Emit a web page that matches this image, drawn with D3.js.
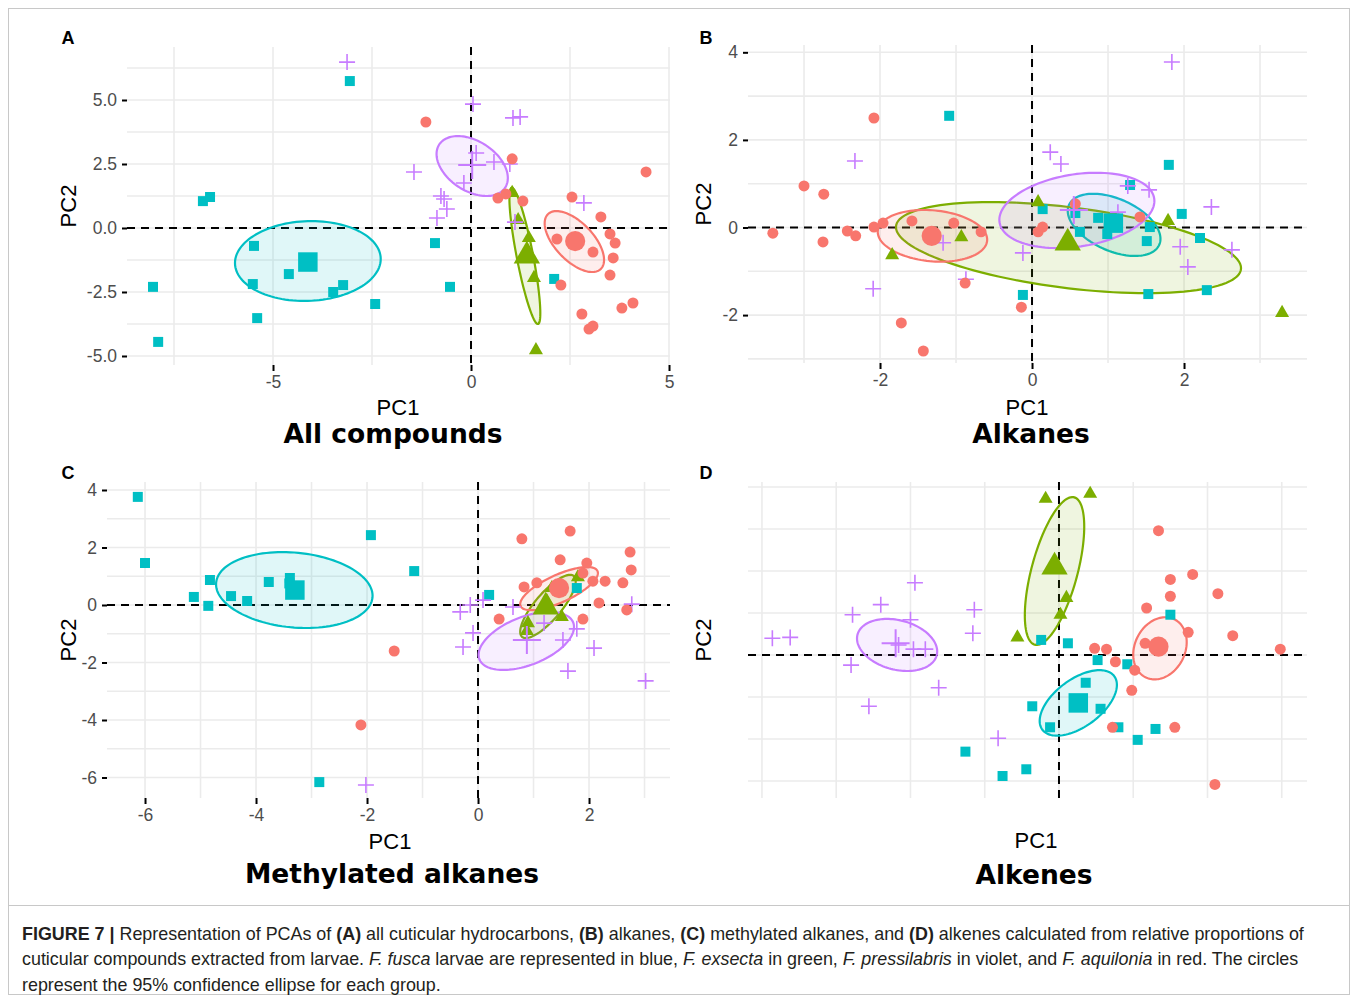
<!doctype html>
<html lang="en">
<head>
<meta charset="UTF-8">
<title>Figure 7</title>
<script src="https://d3js.org/d3.v7.min.js"></script>
<style>
  body { margin: 0; background: #fff; }
</style>
</head>
<body>
<div id="chart-area"></div>
<script>

// group order everywhere: fusca, exsecta, pressilabris, aquilonia
const groupNames = ['fusca', 'exsecta', 'pressilabris', 'aquilonia'];
const groupColors = ['#00BFC4', '#7CAE00', '#C77CFF', '#F8766D'];
const groupShapes = ['square', 'triangle', 'cross', 'circle'];

// ---- A: all compounds
const aFusca = [[-3.06,5.74],[-6.77,1.05],[-6.59,1.21],[-5.48,-0.70],[-4.60,-1.80],[-5.51,-2.19],[-3.48,-2.50],[-3.23,-2.23],[-8.03,-2.30],[-7.90,-4.45],[-5.40,-3.52],[-0.91,-0.59],[-0.53,-2.30],[-2.42,-2.97],[2.10,-1.99]];
const aExsecta = [[1.04,1.37],[1.19,0.31],[1.46,-0.39],[1.59,-1.95],[1.64,-4.77]];
const aPressilabris = [[-3.13,6.48],[0.05,4.84],[1.06,4.30],[1.24,4.34],[0.13,2.93],[0.58,2.58],[0.98,2.50],[-1.44,2.19],[-0.18,1.76],[-0.76,1.25],[-0.68,1.13],[-0.61,0.74],[-0.86,0.39],[2.85,0.98],[1.11,0.23]];
const aAquilonia = [[-1.14,4.14],[1.04,2.70],[0.68,1.17],[0.88,1.33],[1.31,1.05],[2.55,1.21],[3.28,0.43],[4.42,2.19],[2.17,-0.43],[3.08,-0.94],[3.51,-0.23],[3.64,-0.59],[3.59,-1.17],[3.51,-1.84],[2.27,-2.23],[2.80,-3.36],[2.98,-3.95],[3.08,-3.83],[3.81,-3.13],[4.09,-2.93]];
const aMeans = [[-4.12,-1.33],[1.41,-1.09],[0.03,2.46],[2.63,-0.51]];
// ellipse: [cx, cy, half x-extent, half y-extent, tilt (rho)]
const aEllipses = [[-4.12,-1.29,1.84,1.56,0.05],[1.36,-1.09,0.39,2.66,-0.84],[0.03,2.42,0.90,1.17,-0.40],[2.61,-0.53,0.75,1.19,-0.60]];
const aXTicks = [-5, 0, 5];
const aYTicks = [-5, -2.5, 0, 2.5, 5];
const aXGrid = [-7.5, -5, -2.5, 0, 2.5, 5];
const aYGrid = [-5, -3.75, -2.5, -1.25, 0, 1.25, 2.5, 3.75, 5, 6.25];

// ---- B: alkanes
const bFusca = [[-1.09,2.55],[0.14,0.42],[1.29,0.97],[1.80,1.43],[1.97,0.31],[0.87,0.22],[0.57,0.33],[0.63,-0.10],[0.99,-0.15],[1.13,0.01],[1.55,0.01],[1.51,-0.31],[2.21,-0.24],[1.53,-1.52],[2.30,-1.43],[-0.12,-1.54]];
const bExsecta = [[-1.84,-0.63],[-0.93,-0.22],[0.08,0.58],[1.79,0.15],[3.29,-1.95]];
const bPressilabris = [[-2.33,1.52],[-1.17,-0.35],[-2.09,-1.40],[-0.87,-1.18],[1.84,3.78],[0.24,1.72],[0.38,1.45],[1.26,0.95],[1.54,0.86],[2.36,0.47],[1.13,0.35],[-0.12,-0.58],[1.95,-0.44],[2.05,-0.90],[2.63,-0.51]];
const bAquilonia = [[-2.08,2.50],[-3.00,0.95],[-2.74,0.76],[-3.41,-0.13],[-2.75,-0.33],[-2.43,-0.08],[-2.32,-0.19],[-2.08,0.01],[-1.96,0.10],[-1.58,0.15],[-1.03,0.10],[-0.67,-0.10],[-0.88,-1.27],[-1.72,-2.18],[-1.43,-2.82],[0.57,0.54],[1.42,0.24],[0.14,0.01],[0.08,-0.10],[-0.14,-1.82]];
const bMeans = [[1.07,0.10],[0.47,-0.35],[0.55,0.40],[-1.32,-0.19]];
const bEllipses = [[1.08,0.06,0.61,0.71,-0.45],[0.48,-0.46,2.27,1.04,-0.45],[0.59,0.39,1.02,0.86,0.25],[-1.31,-0.19,0.72,0.59,-0.15]];
const bXTicks = [-2, 0, 2];
const bYTicks = [-2, 0, 2, 4];
const bXGrid = [-3, -2, -1, 0, 1, 2, 3];
const bYGrid = [-3, -2, -1, 0, 1, 2, 3, 4];

// ---- C: methylated alkanes
const cFusca = [[-6.13,3.76],[-6.00,1.46],[-4.83,0.87],[-5.12,0.28],[-4.86,-0.03],[-4.45,0.31],[-4.16,0.14],[-3.77,0.80],[-3.39,0.94],[-3.40,0.75],[-3.30,0.40],[-1.93,2.43],[-1.15,1.18],[0.20,0.35],[1.78,0.59],[-2.86,-6.16]];
const cExsecta = [[1.80,0.97],[1.33,0.59],[1.24,0.14],[0.90,-0.63],[1.51,-0.42],[0.88,-0.90]];
const cPressilabris = [[-0.32,-0.24],[-0.14,0.00],[0.09,0.17],[0.63,-0.07],[-0.09,-0.97],[-0.27,-1.46],[1.19,-0.63],[1.53,-1.22],[1.78,-0.83],[2.09,-1.50],[1.62,-2.30],[2.77,0.03],[3.02,-2.64],[-2.02,-6.26]];
const cAquilonia = [[0.79,2.30],[1.66,2.57],[1.48,1.57],[1.96,1.46],[1.89,1.11],[1.06,0.77],[0.83,0.63],[2.07,0.83],[2.29,0.83],[2.61,0.77],[2.74,1.84],[2.76,1.22],[2.18,0.07],[2.68,-0.17],[0.38,-0.49],[1.89,-0.49],[-1.51,-1.60],[-2.11,-4.17]];
const cMeans = [[-3.30,0.52],[1.22,-0.07],[0.88,-1.22],[1.46,0.59]];
const cEllipses = [[-3.31,0.52,1.41,1.32,-0.15],[1.26,-0.05,0.50,1.10,0.80],[0.87,-1.25,0.86,1.01,0.48],[1.46,0.57,0.70,0.75,0.72]];
const cXTicks = [-6, -4, -2, 0, 2];
const cYTicks = [-6, -4, -2, 0, 2, 4];
const cXGrid = [-6, -5, -4, -3, -2, -1, 0, 1, 2, 3];
const cYGrid = [-6, -5, -4, -3, -2, -1, 0, 1, 2, 3, 4];

// ---- D: alkenes (no tick labels in the original)
const dFusca = [[-0.12,0.18],[0.06,0.14],[0.26,-0.06],[0.46,-0.11],[0.75,0.48],[0.18,-0.33],[-0.18,-0.61],[0.28,-0.64],[0.40,-0.86],[-0.06,-0.86],[0.53,-1.01],[0.65,-0.88],[-0.63,-1.15],[-0.38,-1.44],[-0.22,-1.36]];
const dExsecta = [[-0.09,1.86],[0.21,1.92],[0.05,0.68],[0.01,0.48],[-0.28,0.21]];
const dPressilabris = [[-1.93,0.20],[-1.81,0.21],[-1.39,0.48],[-1.20,0.60],[-0.97,0.86],[-1.00,0.42],[-1.08,0.12],[-0.98,0.07],[-0.90,0.07],[-1.40,-0.12],[-0.81,-0.39],[-1.28,-0.61],[-0.57,0.54],[-0.58,0.26],[-0.41,-0.99]];
const dAquilonia = [[0.67,1.48],[0.75,0.90],[0.75,0.70],[0.90,0.96],[1.07,0.73],[0.59,0.56],[1.17,0.23],[1.49,0.07],[0.87,0.27],[0.58,0.14],[0.24,0.08],[0.32,0.07],[0.38,-0.08],[0.51,-0.18],[0.49,-0.42],[0.36,-0.86],[0.78,-0.86],[1.05,-1.54]];
const dMeans = [[0.13,-0.57],[-0.03,1.05],[-1.10,0.14],[0.67,0.10]];
const dEllipses = [[0.13,-0.57,0.26,0.39,0.55],[-0.03,1.00,0.20,0.88,0.60],[-1.09,0.12,0.27,0.31,-0.25],[0.68,0.08,0.18,0.37,0.20]];
const dXTicks = [];
const dYTicks = [];
const dXGrid = [-2, -1.5, -1, -0.5, 0, 0.5, 1, 1.5];
const dYGrid = [-1.5, -1, -0.5, 0, 0.5, 1, 1.5, 2];

// plain hyphen minus, as in the original figure
const fmt1 = d => d3.format('.1f')(d).replace('\u2212', '-');
const fmt0 = d => d3.format('d')(d).replace('\u2212', '-');

const panels = [
    { letter: 'A', title: 'All compounds', left: 127, right: 670, top: 47, bottom: 365,
      xDomain: [-8.687, 5.025], yDomain: [7.070, -5.352], fmt: fmt1, fmtX: fmt0,
      groups: [aFusca, aExsecta, aPressilabris, aAquilonia], means: aMeans, ellipses: aEllipses,
      xTicks: aXTicks, yTicks: aYTicks, xGrid: aXGrid, yGrid: aYGrid,
      letterXY: [68, 44], pc1XY: [398, 415], pc2X: 76, titleXY: [393, 443] },
    { letter: 'B', title: 'Alkanes', left: 748, right: 1307, top: 45, bottom: 363,
      xDomain: [-3.737, 3.618], yDomain: [4.167, -3.094], fmt: fmt0, fmtX: fmt0,
      groups: [bFusca, bExsecta, bPressilabris, bAquilonia], means: bMeans, ellipses: bEllipses,
      xTicks: bXTicks, yTicks: bYTicks, xGrid: bXGrid, yGrid: bYGrid,
      letterXY: [706, 44], pc1XY: [1027, 415], pc2X: 711, titleXY: [1031, 443] },
    { letter: 'C', title: 'Methylated alkanes', left: 107, right: 670, top: 482, bottom: 798,
      xDomain: [-6.685, 3.459], yDomain: [4.278, -6.713], fmt: fmt0, fmtX: fmt0,
      groups: [cFusca, cExsecta, cPressilabris, cAquilonia], means: cMeans, ellipses: cEllipses,
      xTicks: cXTicks, yTicks: cYTicks, xGrid: cXGrid, yGrid: cYGrid,
      letterXY: [68, 479], pc1XY: [390, 849], pc2X: 76, titleXY: [392, 883] },
    { letter: 'D', title: 'Alkenes', left: 748, right: 1307, top: 482, bottom: 798,
      xDomain: [-2.094, 1.670], yDomain: [2.060, -1.702], fmt: fmt0, fmtX: fmt0,
      groups: [dFusca, dExsecta, dPressilabris, dAquilonia], means: dMeans, ellipses: dEllipses,
      xTicks: dXTicks, yTicks: dYTicks, xGrid: dXGrid, yGrid: dYGrid,
      letterXY: [706, 479], pc1XY: [1036, 848], pc2X: 711, titleXY: [1034, 884] }
];

const W = 1358, H = 1003;
const svg = d3.select('#chart-area')
    .append('svg')
    .attr('width', W)
    .attr('height', H)
    .style('display', 'block');

svg.append('rect').attr('width', W).attr('height', H).attr('fill', '#fff');

// figure frame + caption separator
svg.append('rect')
    .attr('x', 8.5).attr('y', 8.5).attr('width', W - 17).attr('height', H - 17)
    .attr('fill', 'none').attr('stroke', '#c8c8c8').attr('stroke-width', 1);
svg.append('line')
    .attr('x1', 8).attr('x2', W - 8).attr('y1', 905.5).attr('y2', 905.5)
    .attr('stroke', '#c8c8c8').attr('stroke-width', 1);

function symbolPath(shape, big) {
    if (shape === 'cross') {
        const s = big ? 14 : 8;
        return `M${-s},0H${s}M0,${-s}V${s}`;
    }
    const types = { square: d3.symbolSquare, circle: d3.symbolCircle, triangle: d3.symbolTriangle };
    const sizes = big ? { square: 380, circle: 320, triangle: 300 } : { square: 100, circle: 95, triangle: 85 };
    return d3.symbol().type(types[shape]).size(sizes[shape])();
}

function ellipsePoints(e) {
    const [cx, cy, rx, ry, rho] = e;
    const s = Math.sqrt(1 - rho * rho);
    return d3.range(120).map(k => {
        const t = k / 120 * 2 * Math.PI;
        return [cx + rx * Math.cos(t), cy + ry * (rho * Math.cos(t) + s * Math.sin(t))];
    });
}

panels.forEach(p => {
    const x = d3.scaleLinear().domain(p.xDomain).range([p.left, p.right]);
    const y = d3.scaleLinear().domain(p.yDomain).range([p.top, p.bottom]);
    const g = svg.append('g');

    // grid
    g.selectAll('line.vgrid').data(p.xGrid).enter().append('line')
        .attr('x1', d => x(d)).attr('x2', d => x(d))
        .attr('y1', p.top).attr('y2', p.bottom)
        .attr('stroke', '#ebebeb').attr('stroke-width', 1.6);
    g.selectAll('line.hgrid').data(p.yGrid).enter().append('line')
        .attr('y1', d => y(d)).attr('y2', d => y(d))
        .attr('x1', p.left).attr('x2', p.right)
        .attr('stroke', '#ebebeb').attr('stroke-width', 1.6);

    // axes
    const axStyle = sel => {
        sel.select('.domain').remove();
        sel.selectAll('.tick line').attr('stroke', '#000').attr('stroke-width', 2);
        sel.selectAll('.tick text')
            .attr('fill', '#4d4d4d')
            .style('font-family', '"Liberation Sans", Arial, sans-serif')
            .style('font-size', '17.5px');
    };
    if (p.xTicks.length) {
        g.append('g')
            .attr('transform', `translate(0,${p.bottom})`)
            .call(d3.axisBottom(x).tickValues(p.xTicks).tickSize(6).tickPadding(5).tickFormat(p.fmtX))
            .call(axStyle);
    }
    if (p.yTicks.length) {
        g.append('g')
            .attr('transform', `translate(${p.left},0)`)
            .call(d3.axisLeft(y).tickValues(p.yTicks).tickSize(5).tickPadding(5).tickFormat(p.fmt))
            .call(axStyle);
    }

    // zero reference lines
    g.append('line')
        .attr('x1', x(0)).attr('x2', x(0)).attr('y1', p.top).attr('y2', p.bottom)
        .attr('stroke', '#000').attr('stroke-width', 2).attr('stroke-dasharray', '8,6');
    g.append('line')
        .attr('y1', y(0)).attr('y2', y(0)).attr('x1', p.left).attr('x2', p.right)
        .attr('stroke', '#000').attr('stroke-width', 2).attr('stroke-dasharray', '8,6');

    const line = d3.line().x(d => x(d[0])).y(d => y(d[1])).curve(d3.curveLinearClosed);

    // ellipses
    g.selectAll('path.ell').data(p.ellipses).enter().append('path')
        .attr('d', d => line(ellipsePoints(d)))
        .attr('fill', (d, i) => groupColors[i])
        .attr('fill-opacity', 0.12)
        .attr('stroke', (d, i) => groupColors[i])
        .attr('stroke-width', 2.2);

    // individuals
    p.groups.forEach((pts, i) => {
        const shape = groupShapes[i];
        g.selectAll(null).data(pts).enter().append('path')
            .attr('transform', d => `translate(${x(d[0])},${y(d[1])})`)
            .attr('d', symbolPath(shape, false))
            .attr('fill', shape === 'cross' ? 'none' : groupColors[i])
            .attr('stroke', shape === 'cross' ? groupColors[i] : 'none')
            .attr('stroke-width', 1.6);
    });

    // group means
    g.selectAll(null).data(p.means).enter().append('path')
        .attr('transform', d => `translate(${x(d[0])},${y(d[1])})`)
        .attr('d', (d, i) => symbolPath(groupShapes[i], true))
        .attr('fill', (d, i) => groupShapes[i] === 'cross' ? 'none' : groupColors[i])
        .attr('stroke', (d, i) => groupShapes[i] === 'cross' ? groupColors[i] : 'none')
        .attr('stroke-width', 2);

    // labels
    g.append('text')
        .attr('x', p.letterXY[0]).attr('y', p.letterXY[1])
        .attr('text-anchor', 'middle')
        .style('font-family', '"Liberation Sans", Arial, sans-serif')
        .style('font-weight', 'bold').style('font-size', '18px')
        .text(p.letter);
    g.append('text')
        .attr('x', p.pc1XY[0]).attr('y', p.pc1XY[1])
        .attr('text-anchor', 'middle')
        .style('font-family', '"Liberation Sans", Arial, sans-serif')
        .style('font-size', '22px')
        .text('PC1');
    g.append('text')
        .attr('transform', `translate(${p.pc2X},${(p.top + p.bottom) / 2}) rotate(-90)`)
        .attr('text-anchor', 'middle')
        .style('font-family', '"Liberation Sans", Arial, sans-serif')
        .style('font-size', '22px')
        .text('PC2');
    g.append('text')
        .attr('x', p.titleXY[0]).attr('y', p.titleXY[1])
        .attr('text-anchor', 'middle')
        .style('font-family', '"DejaVu Sans", Verdana, sans-serif')
        .style('font-weight', 'bold').style('font-size', '26.5px')
        .text(p.title);
});

// caption
const captionLines = [
    [['FIGURE 7 | ', 'b'], ['Representation of PCAs of ', ''], ['(A)', 'b'], [' all cuticular hydrocarbons, ', ''], ['(B)', 'b'],
     [' alkanes, ', ''], ['(C)', 'b'], [' methylated alkanes, and ', ''], ['(D)', 'b'], [' alkenes calculated from relative proportions of', '']],
    [['cuticular compounds extracted from larvae. ', ''], ['F. fusca', 'i'], [' larvae are represented in blue, ', ''], ['F. exsecta', 'i'],
     [' in green, ', ''], ['F. pressilabris', 'i'], [' in violet, and ', ''], ['F. aquilonia', 'i'], [' in red. The circles', '']],
    [['represent the 95% confidence ellipse for each group.', '']]
];

const cap = svg.append('g')
    .style('font-family', '"Liberation Sans", Arial, sans-serif')
    .style('font-size', '17.9px')
    .attr('fill', '#231f20');

captionLines.forEach((segs, li) => {
    const t = cap.append('text').attr('x', 22).attr('y', 940 + li * 25.3).attr('xml:space', 'preserve');
    segs.forEach(([s, f]) => {
        t.append('tspan')
            .style('font-weight', f === 'b' ? 'bold' : 'normal')
            .style('font-style', f === 'i' ? 'italic' : 'normal')
            .text(s);
    });
});

</script>
</body>
</html>
